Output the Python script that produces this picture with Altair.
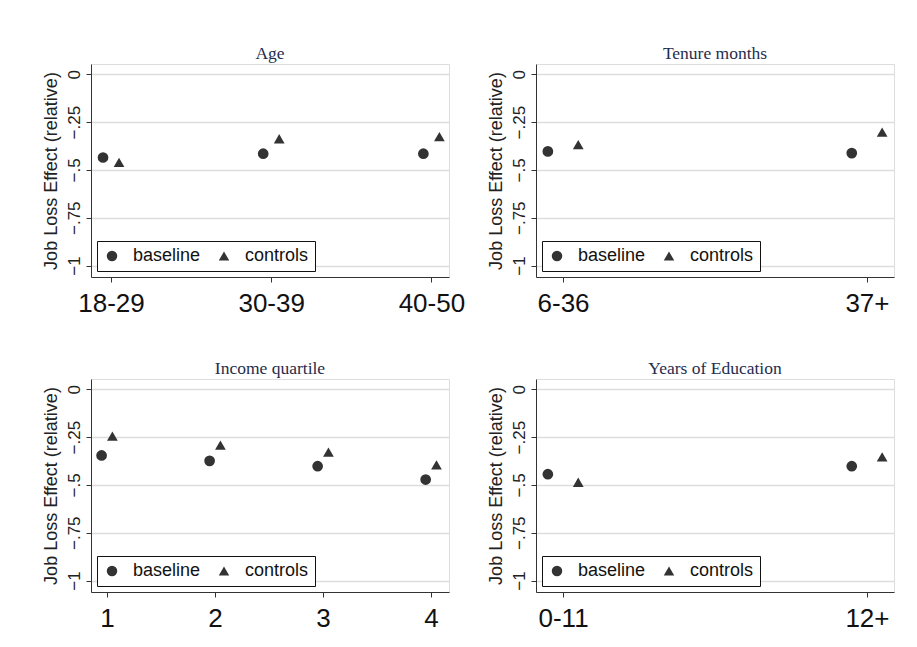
import altair as alt
import pandas as pd

series_names = ["baseline", "controls"]

age_labels = ["18-29", "30-39", "40-50"]
age_baseline = [-0.435, -0.415, -0.415]
age_controls = [-0.46, -0.337, -0.326]

tenure_labels = ["6-36", "37+"]
tenure_baseline = [-0.403, -0.412]
tenure_controls = [-0.368, -0.302]

income_labels = ["1", "2", "3", "4"]
income_baseline = [-0.346, -0.374, -0.402, -0.472]
income_controls = [-0.245, -0.292, -0.329, -0.395]

edu_labels = ["0-11", "12+"]
edu_baseline = [-0.444, -0.402]
edu_controls = [-0.486, -0.353]

y_ticks = [0, -0.25, -0.5, -0.75, -1]

SANS = "Liberation Sans"
SERIF = "Liberation Serif"
MARK = "#333333"
W, H = 358, 213


def panel(title, labels, base, ctrl, xdom):
    rows = []
    for i, (b, c) in enumerate(zip(base, ctrl)):
        rows.append({"pos": i + 1 - 0.05, "value": b, "series": series_names[0]})
        rows.append({"pos": i + 1 + 0.05, "value": c, "series": series_names[1]})
    df = pd.DataFrame(rows)
    label_expr = "[" + ",".join("'%s'" % l for l in labels) + "][datum.value-1]"
    return alt.Chart(df, title=alt.TitleParams(
        title, font=SERIF, fontSize=17.5, fontWeight="normal", color="#1f2d4d",
        offset=2, anchor="middle")).mark_point(
        filled=True, opacity=1, color=MARK).encode(
        x=alt.X("pos:Q", scale=alt.Scale(domain=xdom, nice=False, zero=False),
                axis=alt.Axis(values=list(range(1, len(labels) + 1)), labelExpr=label_expr,
                              labelFontSize=26, labelFont=SANS, labelColor="#111111",
                              labelPadding=8, tickSize=5, tickColor="#333333",
                              domainColor="#333333", grid=False, title=None,
                              labelFlush=False, labelOverlap=False)),
        y=alt.Y("value:Q", scale=alt.Scale(domain=[-1.06, 0.054], nice=False, zero=False),
                axis=alt.Axis(values=y_ticks,
                              labelExpr="replace(format(datum.value, '.2~f'), '0.', '.')",
                              labelAngle=270, labelAlign="center", labelBaseline="bottom",
                              labelFontSize=17, labelFont=SANS, labelColor="#222222",
                              labelPadding=3, tickSize=5, tickColor="#333333",
                              domainColor="#333333", grid=True, gridColor="#dddddd",
                              gridWidth=1.5, title="Job Loss Effect (relative)",
                              titleFont=SANS, titleFontSize=18, titleFontWeight="normal",
                              titleColor="#222222", titlePadding=5, labelFlush=False)),
        shape=alt.Shape("series:N",
                        scale=alt.Scale(domain=series_names, range=["circle", "triangle-up"]),
                        legend=alt.Legend(title=None, orient="bottom-left", direction="horizontal",
                                          offset=6, fillColor="white", strokeColor="#111111",
                                          padding=6, labelFont=SANS, labelFontSize=18,
                                          labelColor="#111111", symbolSize=110,
                                          symbolFillColor=MARK, symbolStrokeColor=MARK,
                                          symbolStrokeWidth=0, columnPadding=14,
                                          labelOffset=12, cornerRadius=0)),
        size=alt.value(115),
    ).properties(width=W, height=H)


p1 = panel("Age", age_labels, age_baseline, age_controls, [0.875, 3.11])
p2 = panel("Tenure months", tenure_labels, tenure_baseline, tenure_controls, [0.911, 2.089])
p3 = panel("Income quartile", income_labels, income_baseline, income_controls, [0.852, 4.166])
p4 = panel("Years of Education", edu_labels, edu_baseline, edu_controls, [0.911, 2.089])

chart = alt.concat(p1, p2, p3, p4, columns=2, spacing=alt.RowColnumber(row=102, column=87),
                   bounds="flush").resolve_scale(
    shape="independent", x="independent", y="independent").resolve_legend(
    shape="independent").properties(
    padding={"left": 41, "top": 44, "right": 10, "bottom": 10}).configure_view(
    stroke=None).configure(background="white")

chart.save("out.html", embed_options={"renderer": "svg", "actions": False})
